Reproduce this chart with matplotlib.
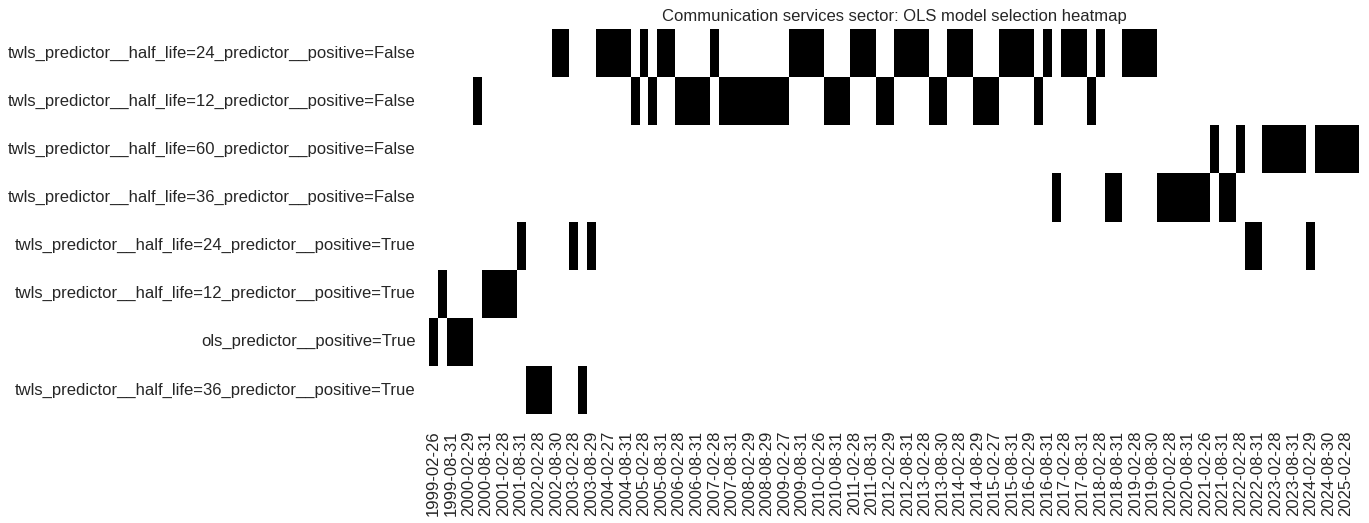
import numpy as np
import pandas as pd
import matplotlib
matplotlib.use("Agg")
import matplotlib.pyplot as plt
import seaborn as sns

# modelos (filas del heatmap, de arriba a abajo)
modelos = [
    "twls_predictor__half_life=24_predictor__positive=False",
    "twls_predictor__half_life=12_predictor__positive=False",
    "twls_predictor__half_life=60_predictor__positive=False",
    "twls_predictor__half_life=36_predictor__positive=False",
    "twls_predictor__half_life=24_predictor__positive=True",
    "twls_predictor__half_life=12_predictor__positive=True",
    "ols_predictor__positive=True",
    "twls_predictor__half_life=36_predictor__positive=True",
]

# fechas trimestrales (fin de mes habil: feb, may, ago, nov)
fechas_mes = pd.date_range("1999-02-01", "2025-06-30", freq="BME")
fechas = fechas_mes[::3][:106]

# modelo elegido en cada fecha, como tramos (indice de fila, cantidad de trimestres)
tramos = [
    (6, 1), (5, 1), (6, 3), (1, 1), (5, 4), (4, 1), (7, 3), (0, 2),
    (4, 1), (7, 1), (4, 1), (0, 4), (1, 1), (0, 1), (1, 1), (0, 2),
    (1, 4), (0, 1), (1, 8), (0, 4), (1, 3), (0, 3), (1, 2), (0, 4),
    (1, 2), (0, 3), (1, 3), (0, 4), (1, 1), (0, 1), (3, 1), (0, 3),
    (1, 1), (0, 1), (3, 2), (0, 4), (3, 6), (2, 1), (3, 2), (2, 1),
    (4, 2), (2, 5), (4, 1), (2, 5),
]

seleccion = []
for fila, n in tramos:
    seleccion += [fila] * n

matriz = np.zeros((len(modelos), len(seleccion)))
for j, fila in enumerate(seleccion):
    matriz[fila, j] = 1

df = pd.DataFrame(matriz, index=modelos,
                  columns=[f.strftime("%Y-%m-%d") for f in fechas[:len(seleccion)]])

sns.set_theme(style="white")
plt.rcParams["font.family"] = ["Liberation Sans", "DejaVu Sans"]

fig = plt.figure(figsize=(13.69, 5.23), dpi=100)
ax = fig.add_axes([429 / 1369, 1 - 414 / 523, 930 / 1369, 385 / 523])
sns.heatmap(df, cmap="binary", cbar=False, ax=ax, xticklabels=2, yticklabels=True,
            vmin=0, vmax=1)
ax.set_title("Communication services sector: OLS model selection heatmap", fontsize=12)
ax.tick_params(axis="both", length=0, labelsize=12)
ax.tick_params(axis="x", pad=12)
ax.tick_params(axis="y", pad=9.5)
ax.set_xticklabels(ax.get_xticklabels(), rotation=90)
ax.set_yticklabels(ax.get_yticklabels(), rotation=0)

fig.savefig("out.png", dpi=100)
